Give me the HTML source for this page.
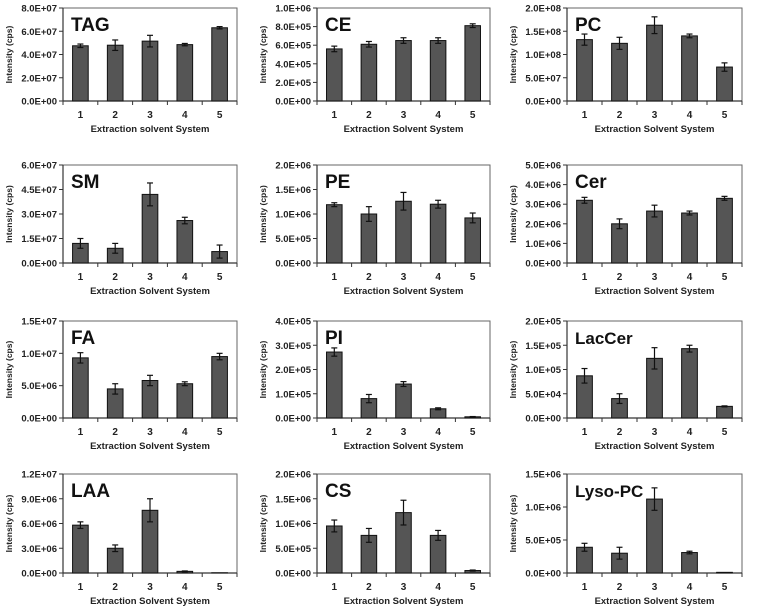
<!DOCTYPE html>
<html><head><meta charset="utf-8"><style>
body{margin:0;background:#fff;}
svg{display:block;font-family:"Liberation Sans",Arial,sans-serif;}
</style></head><body>
<svg id="c" width="762" height="610"></svg>
<script>
const names=["TAG","CE","PC","SM","PE","Cer","FA","PI","LacCer","LAA","CS","Lyso-PC"];
const categories=["1","2","3","4","5"];
const yMax=[8e7,1e6,2e8,6e7,2e6,5e6,1.5e7,4e5,2e5,1.2e7,2e6,1.5e6];
const yStep=[2e7,2e5,5e7,1.5e7,5e5,1e6,5e6,1e5,5e4,3e6,5e5,5e5];
const valTAG=[4.75e7,4.8e7,5.15e7,4.85e7,6.3e7];
const errTAG=[0.15e7,0.45e7,0.5e7,0.1e7,0.1e7];
const valCE=[5.6e5,6.1e5,6.5e5,6.5e5,8.1e5];
const errCE=[0.3e5,0.3e5,0.3e5,0.3e5,0.2e5];
const valPC=[1.32e8,1.24e8,1.63e8,1.4e8,0.73e8];
const errPC=[0.12e8,0.13e8,0.18e8,0.04e8,0.09e8];
const valSM=[1.2e7,0.9e7,4.2e7,2.6e7,0.7e7];
const errSM=[0.3e7,0.3e7,0.7e7,0.2e7,0.4e7];
const valPE=[1.19e6,1.0e6,1.26e6,1.2e6,0.92e6];
const errPE=[0.04e6,0.15e6,0.18e6,0.08e6,0.1e6];
const valCer=[3.2e6,2.0e6,2.65e6,2.55e6,3.3e6];
const errCer=[0.15e6,0.25e6,0.3e6,0.1e6,0.1e6];
const valFA=[0.93e7,0.45e7,0.58e7,0.53e7,0.95e7];
const errFA=[0.08e7,0.08e7,0.08e7,0.03e7,0.05e7];
const valPI=[2.72e5,0.8e5,1.4e5,0.38e5,0.05e5];
const errPI=[0.17e5,0.17e5,0.1e5,0.04e5,0.01e5];
const valLacCer=[0.87e5,0.4e5,1.23e5,1.43e5,0.24e5];
const errLacCer=[0.15e5,0.1e5,0.22e5,0.07e5,0.01e5];
const valLAA=[5.8e6,3.0e6,7.6e6,0.2e6,0.03e6];
const errLAA=[0.4e6,0.4e6,1.4e6,0.05e6,0];
const valCS=[0.95e6,0.76e6,1.22e6,0.76e6,0.05e6];
const errCS=[0.12e6,0.14e6,0.25e6,0.1e6,0.01e6];
const valLyso=[0.39e6,0.3e6,1.12e6,0.31e6,0.01e6];
const errLyso=[0.06e6,0.09e6,0.17e6,0.02e6,0];
const values=[valTAG,valCE,valPC,valSM,valPE,valCer,valFA,valPI,valLacCer,valLAA,valCS,valLyso];
const errors=[errTAG,errCE,errPC,errSM,errPE,errCer,errFA,errPI,errLacCer,errLAA,errCS,errLyso];

const rows=[[8,101],[165,263],[321,418],[474,573]];
const cols=[[63,237],[317,490],[567,742]];
const svg=document.getElementById('c');
const NS="http://www.w3.org/2000/svg";
function mk(tag,attrs,parent){const e=document.createElementNS(NS,tag);for(const k in attrs)e.setAttribute(k,attrs[k]);(parent||svg).appendChild(e);return e;}
function fmt(v){const s=v.toExponential(1).split('e');let ex=parseInt(s[1]);const sign=ex<0?'-':'+';ex=Math.abs(ex);return s[0]+'E'+sign+(ex<10?'0':'')+ex;}

names.forEach((nm,i)=>{
  const [x0,x1]=cols[i%3];const [yT,yZ]=rows[Math.floor(i/3)];
  const g=mk('g',{});
  
  
  const ys=v=>yZ-(v/yMax[i])*(yZ-yT);
  const slot=(x1-x0)/categories.length;
  const xs=k=>x0+slot*(k+0.5);
  const fr=mk('rect',{x:x0,y:yT,width:x1-x0,height:yZ-yT,fill:'none',stroke:'#666','stroke-width':1},g);
  
  
  mk('line',{x1:x0,y1:yT,x2:x0,y2:yZ,stroke:'#333','stroke-width':1.2},g);
  mk('line',{x1:x0,y1:yZ,x2:x1,y2:yZ,stroke:'#333','stroke-width':1.2},g);
  for(let t=0;t<=yMax[i]+1e-9*yMax[i];t+=yStep[i]){
    const y=ys(t);
    mk('line',{x1:x0-4,y1:y,x2:x0,y2:y,stroke:'#333'},g);
    const tl=mk('text',{x:x0-6,y:y+3.5,'text-anchor':'end','font-size':9.5,'font-weight':'bold',fill:'#222'},g);
    tl.textContent=fmt(t);
    
    
  }
  for(let k=0;k<=categories.length;k++){const x=x0+slot*k;mk('line',{x1:x,y1:yZ,x2:x,y2:yZ+4,stroke:'#333'},g);}
  categories.forEach((c,k)=>{
    const bw=slot*0.45;const v=values[i][k];const e=errors[i][k];
    const b=mk('rect',{x:xs(k)-bw/2,y:ys(v),width:bw,height:yZ-ys(v),fill:'#555',stroke:'#111','stroke-width':1},g);
    
    
    if(e>0){
      mk('line',{x1:xs(k),y1:ys(v+e),x2:xs(k),y2:ys(v-e),stroke:'#111','stroke-width':1.2},g);
      mk('line',{x1:xs(k)-3,y1:ys(v+e),x2:xs(k)+3,y2:ys(v+e),stroke:'#111','stroke-width':1.2},g);
      mk('line',{x1:xs(k)-3,y1:ys(v-e),x2:xs(k)+3,y2:ys(v-e),stroke:'#111','stroke-width':1.2},g);
    }
    const xl=mk('text',{x:xs(k),y:yZ+17,'text-anchor':'middle','font-size':10,'font-weight':'bold',fill:'#222'},g);
    xl.textContent=c;
    
    
  });
  const tt=mk('text',{x:x0+8,y:yT+23,'font-size':nm.length>4?17:19,'font-weight':'bold',fill:'#111'},g);
  tt.textContent=nm;
  
  
  const xt=mk('text',{x:(x0+x1)/2,y:yZ+31,'text-anchor':'middle','font-size':9.5,'font-weight':'bold',fill:'#222'},g);
  xt.textContent=i===0?'Extraction solvent System':'Extraction Solvent System';
  
  
  const ax=x0-51,ay=(yT+yZ)/2;
  const yt=mk('text',{x:ax,y:ay,'text-anchor':'middle','font-size':8.5,'font-weight':'bold',fill:'#222',transform:`rotate(-90 ${ax} ${ay})`},g);
  yt.textContent='Intensity (cps)';
  
  
});
</script>
</body></html>
